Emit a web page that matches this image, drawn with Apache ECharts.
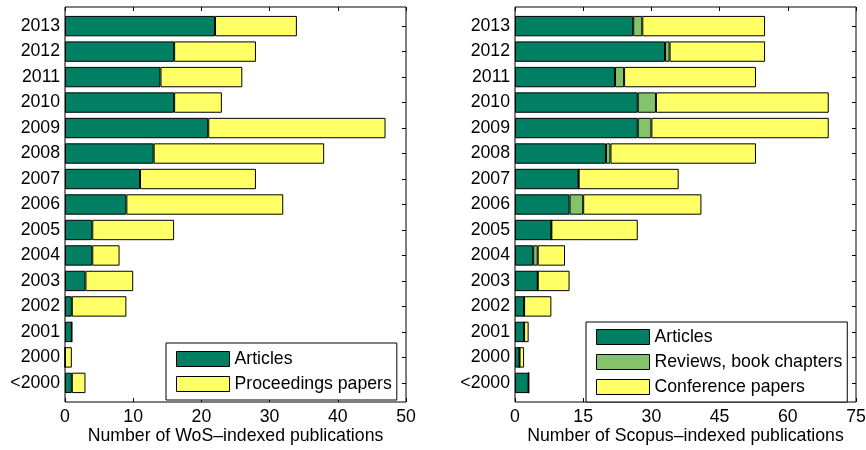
<!DOCTYPE html>
<html><head><meta charset="utf-8">
<script src="https://cdn.jsdelivr.net/npm/echarts@6/dist/echarts.min.js"></script>
<style>html,body{margin:0;padding:0;background:#fff}#c{width:866px;height:450px}</style>
</head><body><div id="c"></div>
<script>
const years = ['<2000','2000','2001','2002','2003','2004','2005','2006','2007','2008','2009','2010','2011','2012','2013'];
const wosArticles = [1,0,1,1,3,4,4,9,11,13,21,16,14,16,22];
const wosProceedings = [2,1,0,8,7,4,12,23,17,25,26,7,12,12,12];
const scopusArticles = [3,1,2,2,5,4,8,12,14,20,27,27,22,33,26];
const scopusReviews = [0,0,0,0,0,1,0,3,0,1,3,4,2,1,2];
const scopusConference = [0,1,1,6,7,6,19,26,22,32,39,38,29,21,27];
const wosTicks = [0,10,20,30,40,50];
const scopusTicks = [0,15,30,45,60,75];

const GREEN = '#017f63', LGREEN = '#85c36a', YELLOW = '#ffff66';
const FONT = 'Liberation Sans, Arial, sans-serif';
const FS = 17.7;
const lineStyle = {color:'#000', width:1};

const FT = 7, FH = 395, FW = 341;
const BAND = FH / 15.5;
const BT = FT + 0.25 * BAND, BH = 15 * BAND;

function frameX(gi, ticks, name){
  const iv = ticks[1]-ticks[0], mn = ticks[0], mx = ticks[ticks.length-1];
  return [{
    type:'value', gridIndex:gi, position:'bottom', min:mn, max:mx, interval:iv,
    axisLine:{show:false, onZero:false}, axisTick:{show:true, inside:true, length:4, lineStyle},
    axisLabel:{color:'#000', fontFamily:FONT, fontSize:FS, margin:6},
    splitLine:{show:false},
    name, nameLocation:'middle', nameGap:25, nameMoveOverlap:false,
    nameTextStyle:{color:'#000', fontFamily:FONT, fontSize:FS}
  },{
    type:'value', gridIndex:gi, position:'top', min:mn, max:mx, interval:iv,
    axisLine:{show:false, onZero:false}, axisTick:{show:true, inside:true, length:4, lineStyle},
    axisLabel:{show:false}, splitLine:{show:false}
  }];
}
function barX(gi, ticks){
  return {type:'value', gridIndex:gi, min:ticks[0], max:ticks[ticks.length-1], show:false, splitLine:{show:false}};
}
function frameY(gi){
  return [
    {type:'value', gridIndex:gi, position:'left', min:0, max:1, show:false, axisLine:{onZero:false}},
  ];
}
function barY(gi){
  return [{
    type:'category', gridIndex:gi, position:'left', data:years,
    axisLine:{show:false, onZero:false}, axisTick:{show:true, inside:true, length:4, alignWithLabel:true, lineStyle},
    axisLabel:{color:'#000', fontFamily:FONT, fontSize:FS, margin:5}
  },{
    type:'category', gridIndex:gi, position:'right', data:years,
    axisLine:{show:false, onZero:false}, axisTick:{show:true, inside:true, length:4, alignWithLabel:true, lineStyle},
    axisLabel:{show:false}
  }];
}
function bar(name, data, color, xi, yi){
  return {type:'bar', name, data, stack:'s'+xi, xAxisIndex:xi, yAxisIndex:yi, barWidth:'80%',
    itemStyle:{color, borderColor:'#000', borderWidth:1}, animation:false, silent:true};
}
const chart = echarts.init(document.getElementById('c'), null, {renderer:'canvas'});
const legendCommon = {orient:'vertical', itemWidth:53, itemHeight:15, itemGap:7, borderColor:'#000', borderWidth:1,
  backgroundColor:'#fff', icon:'rect', textStyle:{color:'#000', fontFamily:FONT, fontSize:FS, lineHeight:15}, selectedMode:false, itemStyle:{borderColor:'#000', borderWidth:1}};
const frameGrid = {show:true, borderColor:'#000', borderWidth:1, backgroundColor:'transparent', outerBoundsMode:'none', containLabel:false};
const plainGrid = {outerBoundsMode:'none', containLabel:false};
chart.setOption({
  backgroundColor:'#fff',
  animation:false,
  grid:[
    Object.assign({left:65, top:FT, width:FW, height:FH}, frameGrid),
    Object.assign({left:65, top:BT, width:FW, height:BH}, plainGrid),
    Object.assign({left:515, top:FT, width:FW, height:FH}, frameGrid),
    Object.assign({left:515, top:BT, width:FW, height:BH}, plainGrid)
  ],
  xAxis:[
    ...frameX(0, wosTicks, 'Number of WoS\u2013indexed publications'),
    barX(1, wosTicks),
    ...frameX(2, scopusTicks, 'Number of Scopus\u2013indexed publications'),
    barX(3, scopusTicks)
  ],
  yAxis:[...frameY(0), ...barY(1), ...frameY(2), ...barY(3)],
  legend:[
    Object.assign({}, legendCommon, {left:166, top:343, padding:[7,5,7,10], data:['Articles','Proceedings papers']}),
    Object.assign({}, legendCommon, {left:586, top:322, padding:[6,5,6,10], data:['Articles ','Reviews, book chapters','Conference papers']})
  ],
  series:[
    bar('Articles', wosArticles, GREEN, 2, 1),
    bar('Proceedings papers', wosProceedings, YELLOW, 2, 1),
    bar('Articles ', scopusArticles, GREEN, 5, 4),
    bar('Reviews, book chapters', scopusReviews, LGREEN, 5, 4),
    bar('Conference papers', scopusConference, YELLOW, 5, 4)
  ]
});
</script></body></html>
